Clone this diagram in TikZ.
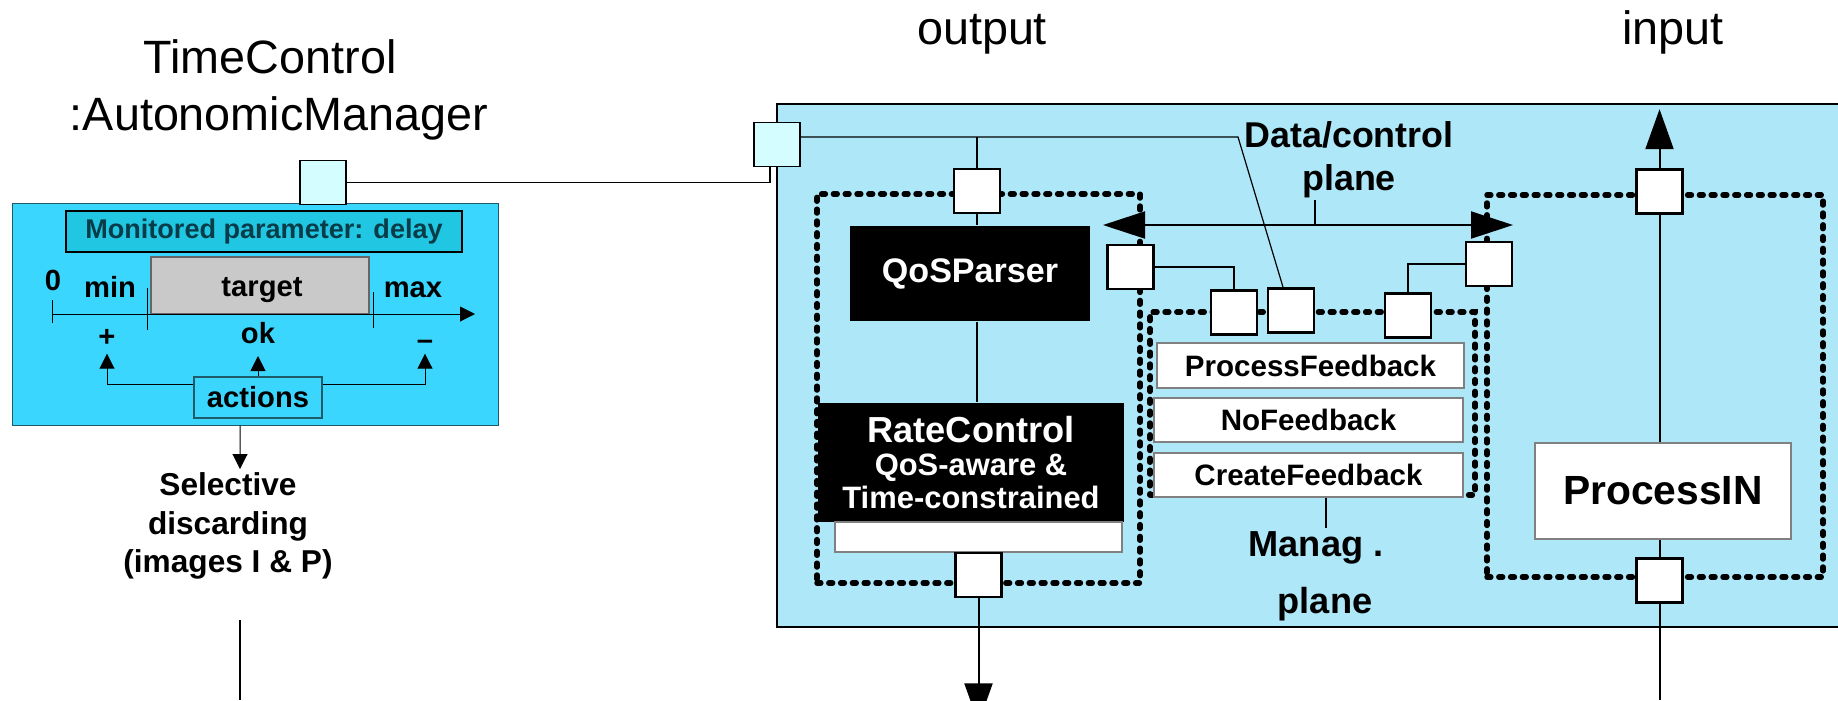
\documentclass[tikz,border=0pt]{standalone}
\usepackage{fontspec}
\setmainfont{Liberation Sans}
\usetikzlibrary{arrows.meta}
\definecolor{cPanel}{HTML}{3AD6FD}
\definecolor{cMon}{HTML}{20C6E2}
\definecolor{cMonText}{HTML}{083C48}
\definecolor{cMain}{HTML}{AEE7F8}
\definecolor{cPort}{HTML}{D4FDFF}
\definecolor{cTarget}{HTML}{C9C9C9}
\definecolor{cEdge}{HTML}{1E5A68}
\tikzset{
  port/.style={rectangle, draw, line width=0.27mm, fill=white,
    minimum width=4.6mm, minimum height=4.4mm, inner sep=0pt},
  cport/.style={port, fill=cPort, line width=0.18mm},
  comp/.style={rectangle, draw, line width=0.55mm, line cap=round,
    dash pattern=on 0.38mm off 0.8mm, inner sep=0pt},
  blackbox/.style={rectangle, fill=black, text=white, inner sep=0pt, align=center},
  rowbox/.style={rectangle, draw=gray, fill=white, line width=0.12mm,
    minimum width=30.9mm, minimum height=4.4mm, inner sep=0pt,
    font=\bfseries\fontsize{8.4}{10}\selectfont},
  lbl/.style={font=\bfseries\fontsize{8.3}{10}\selectfont, inner sep=0pt},
  big/.style={font=\fontsize{13.3}{16}\selectfont, inner sep=0pt},
  conn/.style={line width=0.2mm},
  bigarrow/.style={conn, -{Triangle[length=4mm, width=2.8mm]}},
  sarrow/.style={line width=0.1mm, -{Triangle[length=1.5mm, width=1.5mm]}},
}
\begin{document}
\begin{tikzpicture}[x=0.1mm, y=-0.1mm]
  \useasboundingbox (0,0) rectangle (1838,700);

  % Autonomic manager (left)
  \node[big, anchor=base] (tctitle) at (270,73) {TimeControl};
  \node[big, anchor=base] (amtitle) at (279,130) {:AutonomicManager};
  \node[rectangle, draw=cEdge, fill=cPanel, line width=0.1mm,
        minimum width=48.6mm, minimum height=22.2mm] (amgr) at (255,314) {};
  \node[cport] (tcport) at (323,182.5) {};
  \node[rectangle, draw, fill=cMon, line width=0.25mm, minimum width=39.6mm,
        minimum height=4.1mm, inner sep=0pt, text=cMonText,
        font=\bfseries\fontsize{7.7}{9}\selectfont] (mon) at (264,231.5)
        {Monitored parameter: delay};
  \node[rectangle, draw=gray!80!black, fill=cTarget, line width=0.12mm,
        minimum width=21.8mm, minimum height=5.7mm, lbl] (target) at (260,285.5) {};
  \node[lbl, anchor=base] (tgt) at (262,296) {target};
  \node[lbl, anchor=base] (zero) at (53,290) {0};
  \node[lbl, anchor=base] (min) at (110,297) {min};
  \node[lbl, anchor=base] (max) at (413,297) {max};
  \node[lbl, anchor=base] (plus) at (107,346) {+};
  \node[lbl, anchor=base] (ok) at (258,343) {ok};
  \node[lbl, anchor=base] (minus) at (425,349) {--};
  \coordinate (ax0) at (52,314);
  \coordinate (ax1) at (475,314);
  \draw[sarrow] (ax0) -- (ax1);
  \draw[line width=0.1mm] (52,300) -- (52,323);
  \draw[line width=0.1mm] (147,288) -- (147,330);
  \draw[line width=0.1mm] (373,292) -- (373,328);
  \node[rectangle, draw=cEdge, fill=cPanel, line width=0.12mm,
        minimum width=12.8mm, minimum height=4.1mm, lbl] (actions) at (258,397.5) {actions};
  \draw[sarrow] ([yshift=1.35mm]actions.west) -| ([yshift=-0.7mm]plus.south);
  \draw[sarrow] (actions.north) -- ([yshift=-1.2mm]ok.south);
  \draw[sarrow] ([yshift=1.35mm]actions.east) -| ([yshift=-0.4mm]minus.south);
  \node[anchor=north, inner sep=0pt, align=center,
        font=\bfseries\fontsize{9}{10.95}\selectfont] (sel) at (228,472)
        {Selective\\discarding\\(images I \& P)};
  \draw[sarrow] ([xshift=-1.5mm]amgr.south) -- ([xshift=1.2mm,yshift=0.3mm]sel.north);
  \coordinate (selout) at (240,620);
  \draw[line width=0.15mm] (selout) -- ++(0,80);

  % Component (right)
  \node[big, anchor=base] (outlbl) at (982,44) {output};
  \node[big, anchor=base] (inlbl) at (1673,44) {input};
  \draw[line width=0.27mm, fill=cMain] (777,104) rectangle (1850,627);
  \node[cport] (mport) at (777,144.5) {};
  \draw[line width=0.12mm] (tcport.east) -| ([xshift=-0.7mm]mport.south);

  % Output part
  \node[comp, minimum width=32.3mm, minimum height=38.9mm] (outcomp) at (978.5,388.5) {};
  \node[blackbox, minimum width=24mm, minimum height=9.5mm,
        font=\bfseries\fontsize{9.7}{11}\selectfont] (qos) at (970,273.5) {QoSParser};
  \node[blackbox, minimum width=30.6mm, minimum height=11.9mm,
        font=\bfseries\fontsize{8.8}{9.4}\selectfont] (rate) at (971,462.5)
        {{\fontsize{10.3}{9.4}\selectfont RateControl}\\QoS-aware \&\\Time-constrained};
  \node[rectangle, draw=gray, fill=white, line width=0.12mm, minimum width=28.7mm,
        minimum height=3.0mm, inner sep=0pt] (ratebox) at (978.5,537) {};
  \node[port] (oin) at (977,191) {};
  \node[port] (oout) at (978.5,575) {};
  \node[port] (oright) at (1130.5,267) {};
  \draw[conn] (oin.south) -- (oin.south |- qos.north);
  \draw[conn] (qos.south -| oin.south) -- (rate.north -| oin.south);
  \draw[bigarrow] (oout.south) -- ++(0,125);

  % Management plane
  \node[comp, minimum width=32.5mm, minimum height=18.3mm] (mgmt) at (1312.5,403.5) {};
  \node[rowbox, minimum width=30.7mm, minimum height=4.5mm] (pf) at (1310.5,365.5) {ProcessFeedback};
  \node[rowbox] (nf) at (1308.5,420) {NoFeedback};
  \node[rowbox] (cf) at (1308.5,475) {CreateFeedback};
  \node[port] (mq1) at (1234,312.5) {};
  \node[port] (mq2) at (1291,310.5) {};
  \node[port] (mq3) at (1408,315.5) {};
  \draw[conn] ([xshift=1.7mm]cf.south) -- ++(0,30);
  \node[font=\bfseries\fontsize{10.3}{12}\selectfont, inner sep=0pt, anchor=base]
        (mg1) at (1316,556) {Manag .};
  \node[font=\bfseries\fontsize{10.3}{12}\selectfont, inner sep=0pt, anchor=base]
        (mg2) at (1325,613) {plane};

  % Input part
  \node[comp, minimum width=33.6mm, minimum height=38.2mm] (incomp) at (1655,386) {};
  \node[rectangle, draw=gray, fill=white, line width=0.12mm, minimum width=25.6mm,
        minimum height=9.6mm, inner sep=0pt,
        font=\bfseries\fontsize{11.6}{13}\selectfont] (procin) at (1663,491) {ProcessIN};
  \node[port] (itop) at (1659.5,191.5) {};
  \node[port] (ibot) at (1659.5,580.5) {};
  \node[port] (iright) at (1489,264) {};
  \coordinate (inbot) at (1659.5,700);
  \draw[conn] (inbot) -- (ibot.south);
  \draw[conn] (ibot.north) -- (ibot.north |- procin.south);
  \draw[conn] (itop.south |- procin.north) -- (itop.south);
  \draw[bigarrow] (itop.north) -- ++(0,-59);

  % Links between ports
  \draw[conn] (oright.east) -| (mq1.north);
  \draw[conn] (mq3.north) |- (iright.west);
  \draw[line width=0.12mm] ([yshift=0.75mm]mport.east) -- ([yshift=0.75mm]mport.east -| 1238,0)
        -- ([xshift=-0.8mm]mq2.north);
  \draw[line width=0.12mm] (oin.north) -- ([yshift=0.75mm]mport.east -| oin.north);

  % Data/control plane
  \coordinate (dcl) at (1103,225);
  \coordinate (dcr) at (1513,225);
  \coordinate (dct) at (1315,225);
  \draw[line width=0.2mm, {Triangle[length=4.2mm, width=2.7mm]}-{Triangle[length=4.2mm, width=2.7mm]}]
        (dcl) -- (dcr);
  \draw[line width=0.2mm] (dct) -- ++(0,-25);
  \node[align=center, inner sep=0pt, font=\bfseries\fontsize{10.2}{12.2}\selectfont]
        (dctext) at (1349,160) {Data/control\\plane};

\end{tikzpicture}
\end{document}
